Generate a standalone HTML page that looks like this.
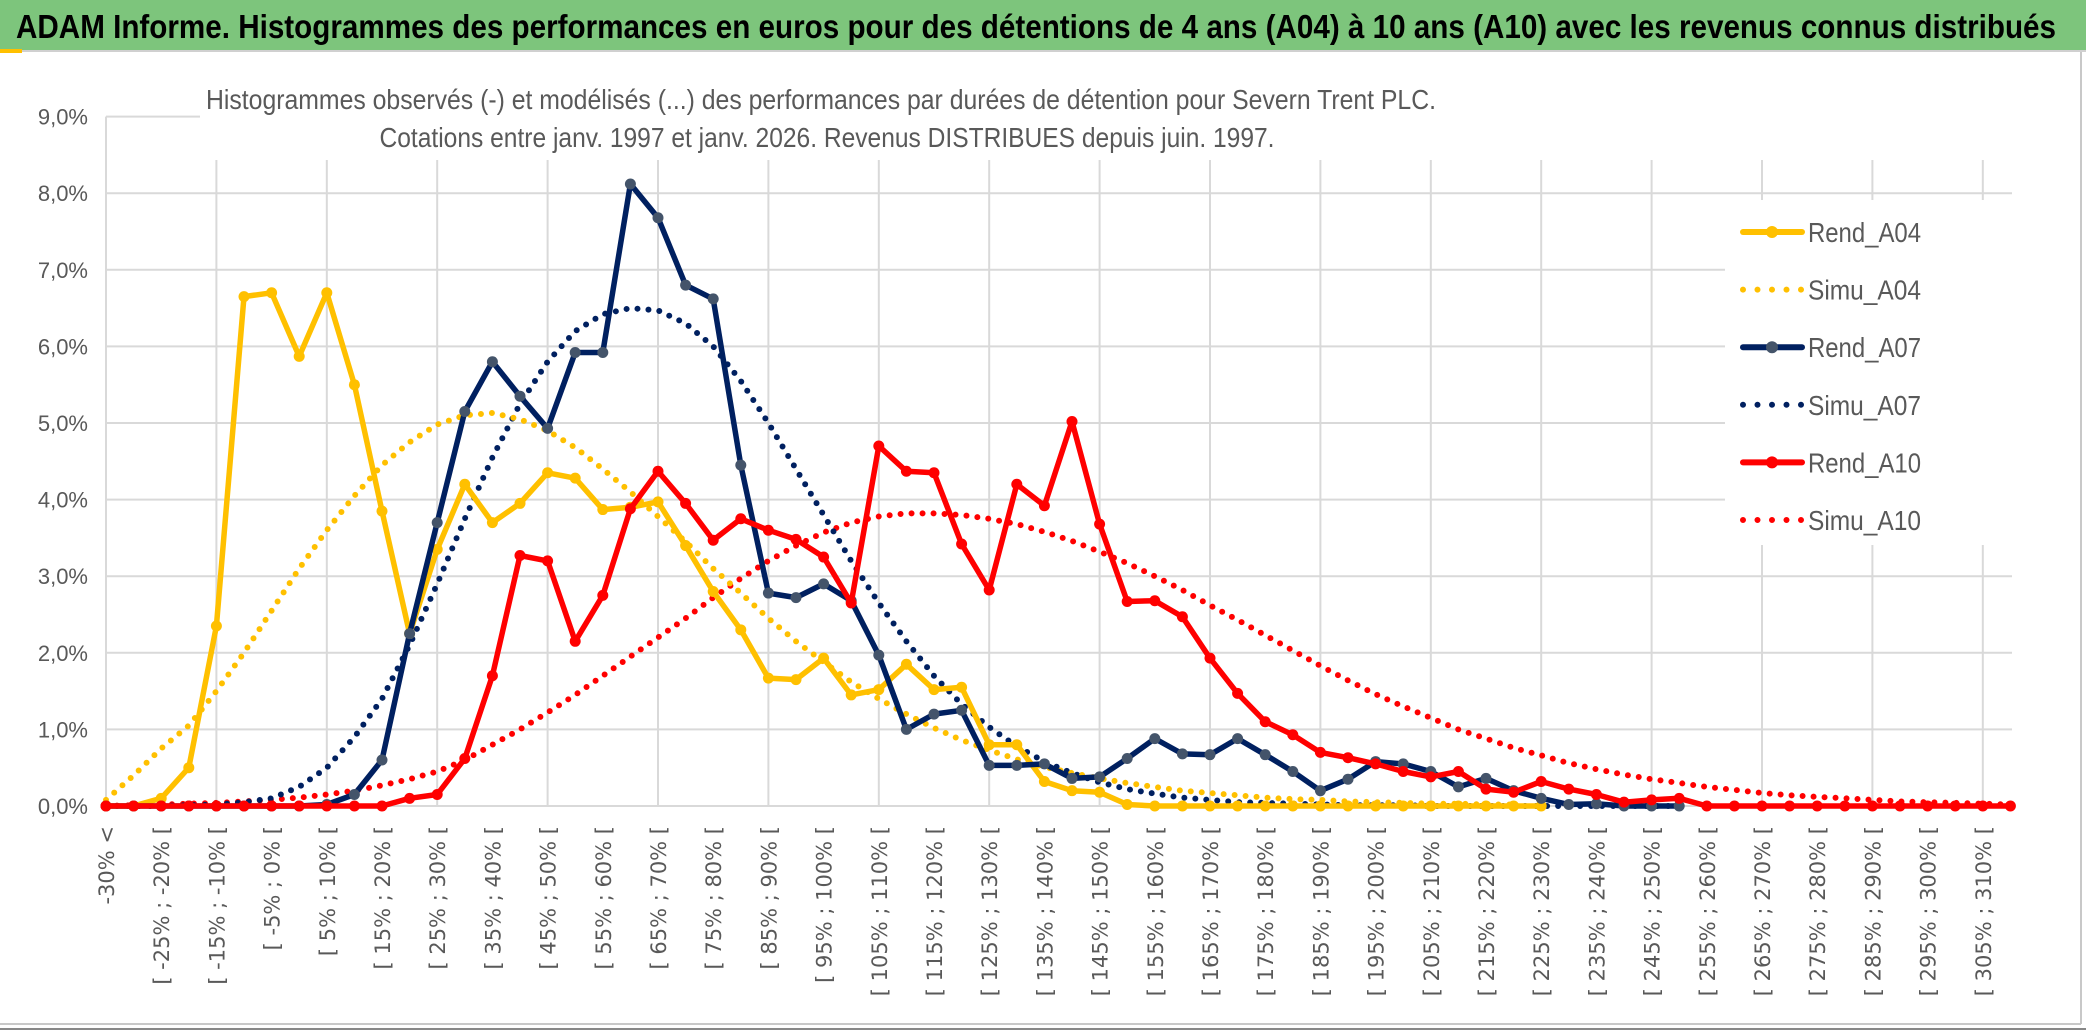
<!DOCTYPE html>
<html><head><meta charset="utf-8"><style>
html,body{margin:0;padding:0;background:#fff;}
svg{display:block;}
</style></head><body>
<svg id="chart" width="2086" height="1031" viewBox="0 0 2086 1031" xmlns="http://www.w3.org/2000/svg">
<rect x="0" y="0" width="2086" height="1031" fill="#fff"/>
<rect x="0" y="0" width="2086" height="50" fill="#7dc57c"/>
<line x1="0" y1="51" x2="2086" y2="51" stroke="#d0d0d0" stroke-width="2"/>
<rect x="0" y="49" width="22" height="4" fill="#ffc000"/>
<text x="16" y="38" font-family="Liberation Sans, sans-serif" font-weight="bold" font-size="33" fill="#000" textLength="2040" lengthAdjust="spacingAndGlyphs">ADAM Informe. Histogrammes des performances en euros pour des détentions de 4 ans (A04) à 10 ans (A10) avec les revenus connus distribués</text>
<line x1="2081" y1="52" x2="2081" y2="1024" stroke="#c8c8c8" stroke-width="2"/>
<line x1="0" y1="1024" x2="2081" y2="1024" stroke="#c8c8c8" stroke-width="2"/>
<line x1="0" y1="1029" x2="2086" y2="1029" stroke="#888" stroke-width="2"/>
<g id="grid"></g>
<g id="yaxis"></g>
<g id="xaxis"></g>
<rect x="200" y="78" width="1812" height="80" fill="#fff"/>
<text x="821" y="109" text-anchor="middle" font-family="Liberation Sans, sans-serif" font-size="28" fill="#595959" textLength="1230" lengthAdjust="spacingAndGlyphs">Histogrammes observés (-) et modélisés (...) des performances par durées de détention pour Severn Trent PLC.</text>
<text x="827" y="147" text-anchor="middle" font-family="Liberation Sans, sans-serif" font-size="28" fill="#595959" textLength="895" lengthAdjust="spacingAndGlyphs">Cotations entre janv. 1997 et janv. 2026. Revenus DISTRIBUES depuis juin. 1997.</text>
<g id="series"></g>
<rect x="1725" y="200" width="287" height="345" fill="#fff"/>
<g id="legend"></g>
</svg>
<script>
const NS='http://www.w3.org/2000/svg';
const categories=[];
for(let i=0;i<70;i++){categories.push(i===0?'-30% <':'[ '+(-35+5*i)+'% ; '+(-30+5*i)+'% [');}
const yTicks=[0,1,2,3,4,5,6,7,8,9];
const yTickLabels=['0,0%','1,0%','2,0%','3,0%','4,0%','5,0%','6,0%','7,0%','8,0%','9,0%'];
const rendA04=[0,0,0.1,0.5,2.35,6.65,6.7,5.87,6.7,5.5,3.85,2.25,3.35,4.2,3.7,3.95,4.35,4.28,3.87,3.9,3.97,3.4,2.8,2.3,1.67,1.65,1.93,1.45,1.52,1.85,1.52,1.55,0.8,0.8,0.32,0.2,0.18,0.02,0,0,0,0,0,0,0,0,0,0,0,0,0,0,0];
const simuA04=[0.08,0.4,0.75,1.05,1.5,2.0,2.55,3.1,3.6,4.05,4.45,4.75,4.98,5.1,5.13,5.05,4.9,4.68,4.4,4.1,3.78,3.45,3.1,2.78,2.45,2.15,1.88,1.62,1.4,1.2,1.02,0.86,0.73,0.61,0.51,0.43,0.36,0.3,0.25,0.2,0.17,0.14,0.11,0.09,0.08,0.06,0.05,0.04,0.03,0.03,0.02,0.02];
const rendA07=[0,0,0,0,0,0,0,0,0.02,0.15,0.6,2.25,3.7,5.15,5.8,5.35,4.93,5.92,5.92,8.12,7.68,6.8,6.62,4.45,2.78,2.72,2.9,2.68,1.97,1.0,1.2,1.25,0.53,0.53,0.55,0.36,0.38,0.62,0.88,0.68,0.67,0.88,0.67,0.45,0.2,0.35,0.58,0.55,0.45,0.25,0.36,0.2,0.1,0.02,0.03,0,0,0];
const simuA07=[0,0,0,0.01,0.02,0.05,0.1,0.25,0.5,0.9,1.4,2.1,2.9,3.75,4.55,5.25,5.8,6.2,6.42,6.5,6.47,6.3,6.0,5.55,5.0,4.4,3.8,3.2,2.65,2.15,1.7,1.33,1.03,0.78,0.58,0.43,0.31,0.22,0.16,0.11,0.08,0.05,0.04,0.03,0.02,0.01,0.01,0.01,0,0,0,0,0,0,0,0,0,0];
const rendA10=[0,0,0,0,0,0,0,0,0,0,0,0.1,0.15,0.62,1.7,3.27,3.2,2.15,2.75,3.88,4.37,3.95,3.47,3.75,3.6,3.48,3.25,2.65,4.7,4.37,4.35,3.42,2.82,4.2,3.92,5.02,3.68,2.67,2.68,2.47,1.93,1.47,1.1,0.93,0.7,0.63,0.55,0.45,0.38,0.45,0.22,0.18,0.32,0.22,0.15,0.05,0.08,0.1,0,0,0,0,0,0,0,0,0,0,0,0];
const simuA10=[0,0.01,0.02,0.03,0.04,0.06,0.08,0.11,0.15,0.2,0.27,0.35,0.45,0.6,0.8,1.0,1.22,1.45,1.7,1.95,2.2,2.45,2.72,2.97,3.2,3.4,3.57,3.7,3.78,3.82,3.82,3.8,3.75,3.68,3.58,3.46,3.32,3.17,3.0,2.82,2.62,2.43,2.23,2.03,1.83,1.64,1.46,1.3,1.15,1.0,0.88,0.76,0.66,0.56,0.48,0.41,0.35,0.3,0.25,0.21,0.17,0.14,0.12,0.1,0.08,0.06,0.05,0.04,0.03,0.02];
const X0=106, DX=27.6, Y0=806, DY=76.6;
const xs=i=>X0+i*DX;
const ys=v=>Y0-v*DY;
function el(tag,attrs,parent){const e=document.createElementNS(NS,tag);for(const k in attrs)e.setAttribute(k,attrs[k]);parent.appendChild(e);return e;}
const grid=document.getElementById('grid');
yTicks.forEach((t,k)=>{
  const l=el('line',{x1:X0,x2:2012,y1:ys(t),y2:ys(t),stroke:'#d9d9d9','stroke-width':2},grid);
  
  
});
for(let i=4;i<categories.length;i+=4){
  const l=el('line',{x1:xs(i),x2:xs(i),y1:160,y2:Y0,stroke:'#d9d9d9','stroke-width':2},grid);
  
  
}
el('line',{x1:X0,x2:X0,y1:ys(9),y2:Y0,stroke:'#d9d9d9','stroke-width':2},grid);
const yaxis=document.getElementById('yaxis');
yTicks.forEach((t,k)=>{
  const tx=el('text',{x:88,y:ys(t)+8,'text-anchor':'end','font-family':'Liberation Sans, sans-serif','font-size':22,fill:'#595959'},yaxis);
  tx.textContent=yTickLabels[k];
  
  
});
const xaxis=document.getElementById('xaxis');
for(let i=0;i<categories.length;i+=2){
  const x=xs(i)+8,y=826;
  const tx=el('text',{x:x,y:y,transform:'rotate(-90 '+x+' '+y+')','text-anchor':'end','font-family':'DejaVu Sans, sans-serif','font-size':21,fill:'#595959'},xaxis);
  tx.textContent=categories[i];
  
  
}
const series=document.getElementById('series');
function pts(arr){return arr.map((v,i)=>xs(i).toFixed(1)+','+ys(v).toFixed(1)).join(' ');}
function dotted(arr,color,name){
  const p=el('polyline',{points:pts(arr),fill:'none',stroke:color,'stroke-width':6,'stroke-linecap':'round','stroke-dasharray':'0 11'},series);
  
  
}
function solid(arr,color,mcolor,name){
  const g=el('g',{},series);
  
  
  el('polyline',{points:pts(arr),fill:'none',stroke:color,'stroke-width':5.5,'stroke-linejoin':'round'},g);
  arr.forEach((v,i)=>{
    const c=el('circle',{cx:xs(i),cy:ys(v),r:5.5,fill:mcolor},g);
    
    
  });
}
dotted(simuA10,'#ff0000','simu-a10-line');
dotted(simuA07,'#002060','simu-a07-line');
dotted(simuA04,'#ffc000','simu-a04-line');
solid(rendA04,'#ffc000','#ffc000','rend-a04-line');
solid(rendA07,'#002060','#44546a','rend-a07-line');
solid(rendA10,'#ff0000','#ff0000','rend-a10-line');
const legendNames=['Rend_A04','Simu_A04','Rend_A07','Simu_A07','Rend_A10','Simu_A10'];
const legendColors=['#ffc000','#ffc000','#002060','#002060','#ff0000','#ff0000'];
const legend=document.getElementById('legend');
legendNames.forEach((n,k)=>{
  const y=232+k*57.6;
  const g=el('g',{},legend);
  
  
  if(k%2===0){
    el('line',{x1:1743,x2:1802,y1:y,y2:y,stroke:legendColors[k],'stroke-width':6,'stroke-linecap':'round'},g);
    el('circle',{cx:1772,cy:y,r:6,fill:k===2?'#44546a':legendColors[k]},g);
  }else{
    el('line',{x1:1743,x2:1802,y1:y,y2:y,stroke:legendColors[k],'stroke-width':6,'stroke-linecap':'round','stroke-dasharray':'0 14.5'},g);
  }
  const t=el('text',{x:1808,y:y+10,'font-family':'Liberation Sans, sans-serif','font-size':28,fill:'#595959',textLength:113,lengthAdjust:'spacingAndGlyphs'},g);
  t.textContent=n;
});
</script>
</body></html>
